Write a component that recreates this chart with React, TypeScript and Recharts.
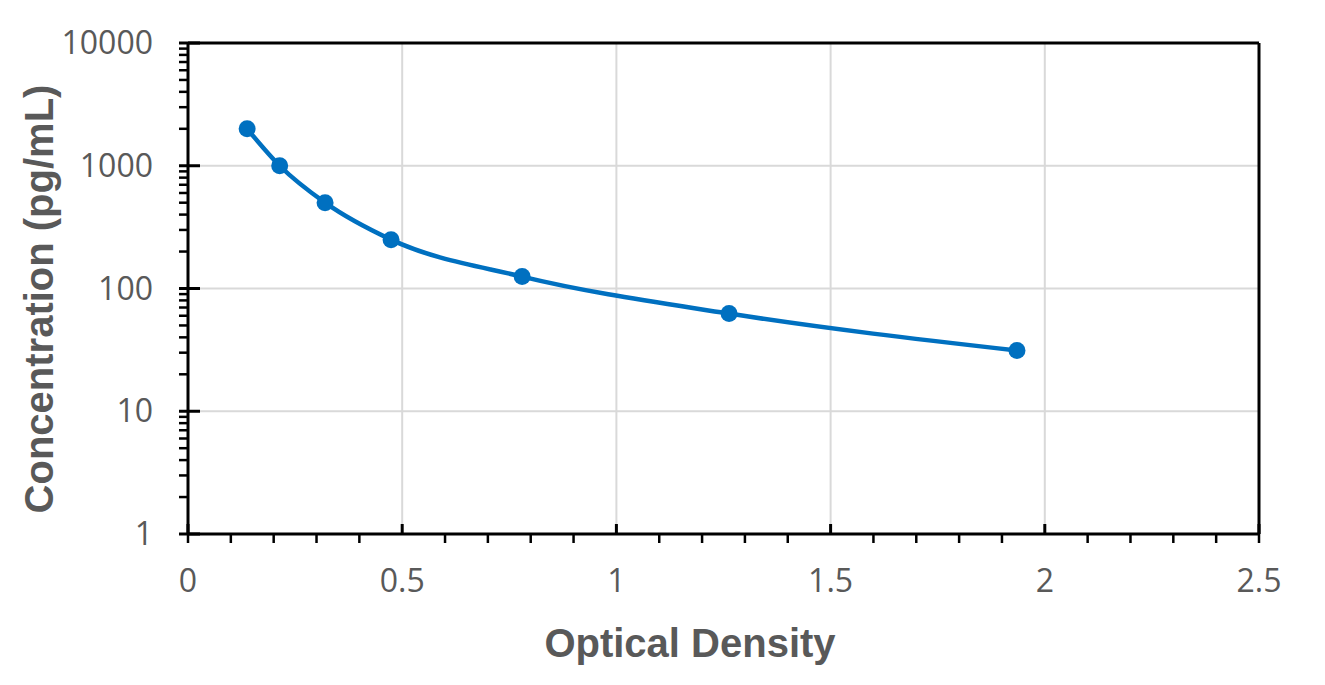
import React from 'react';
import {
  CartesianGrid,
  ComposedChart,
  Label,
  Line,
  ReferenceLine,
  XAxis,
  YAxis,
} from 'recharts';

// standard curve readings
const opticalDensity = [0.138, 0.214, 0.32, 0.474, 0.78, 1.263, 1.935];
const concentration = [2000, 1000, 500, 250, 125, 62.5, 31.25];

const yMajor = [1, 10, 100, 1000, 10000];
const yMinorSteps = [2, 3, 4, 5, 6, 7, 8, 9];
const xMajor = [0, 0.5, 1, 1.5, 2, 2.5];
const xMinor = [0.1, 0.2, 0.3, 0.4, 0.6, 0.7, 0.8, 0.9, 1.1, 1.2, 1.3, 1.4, 1.6, 1.7, 1.8, 1.9, 2.1, 2.2, 2.3, 2.4];

const yTicks = [
  ...yMajor,
  ...yMajor.slice(0, -1).flatMap((d) => yMinorSteps.map((m) => d * m)),
].sort((a, b) => a - b);
const xTicks = [...xMajor, ...xMinor].sort((a, b) => a - b);

const data = opticalDensity.map((od, i) => ({ od, conc: concentration[i] }));

const BLUE = '#0070C0';
const TEXT = '#595959';
const tickFont = "'Open Sans', 'Liberation Sans', sans-serif";
const titleFont = "'Liberation Sans', Arial, sans-serif";

const YTick = (props: any) => {
  const { x, y, payload } = props;
  const v = payload.value;
  const major = yMajor.includes(v);
  return (
    <g>
      <line x1={x - 9} x2={major ? x + 12 : x} y1={y} y2={y} stroke="#000" strokeWidth={major ? 3 : 2.5} />
      {major && (
        <text x={x - 35} y={y} dy="0.35em" textAnchor="end" fill={TEXT} fontSize={32} fontFamily={tickFont}>
          {v}
        </text>
      )}
    </g>
  );
};

const XTick = (props: any) => {
  const { x, y, payload } = props;
  const v = payload.value;
  const major = xMajor.some((m) => Math.abs(m - v) < 1e-9);
  const end = v === 0 || v === 2.5;
  return (
    <g>
      {major && <line x1={x} x2={x} y1={y - 10} y2={y} stroke="#000" strokeWidth={3} />}
      {(!major || end) && <line x1={x} x2={x} y1={y} y2={y + 9} stroke="#000" strokeWidth={2.5} />}
      {major && (
        <text x={x} y={y + 58} textAnchor="middle" fill={TEXT} fontSize={32} fontFamily={tickFont}>
          {v}
        </text>
      )}
    </g>
  );
};

export default function App() {
  return (
    <ComposedChart width={1310} height={670} data={data} margin={{ top: 35, right: 59, left: 0, bottom: 0 }}>
      <CartesianGrid
        stroke="#D9D9D9"
        strokeWidth={2}
        horizontalValues={[10, 100, 1000]}
        verticalValues={[0.5, 1, 1.5, 2]}
      />
      <XAxis
        dataKey="od"
        type="number"
        domain={[0, 2.5]}
        ticks={xTicks}
        interval={0}
        tickSize={0}
        tickMargin={0}
        tickLine={false}
        tick={<XTick />}
        height={144}
        axisLine={{ stroke: '#000', strokeWidth: 3 }}
      >
        <Label
          content={() => (
            <text x={682} y={649} textAnchor="middle" fill={TEXT} fontSize={40} fontWeight="bold" fontFamily={titleFont}>
              Optical Density
            </text>
          )}
        />
      </XAxis>
      <YAxis
        scale="log"
        domain={[1, 10000]}
        allowDataOverflow
        ticks={yTicks}
        interval={0}
        tickSize={0}
        tickMargin={0}
        tickLine={false}
        tick={<YTick />}
        width={180}
        axisLine={{ stroke: '#000', strokeWidth: 3 }}
      >
        <Label
          content={() => (
            <text
              x={45}
              y={291}
              transform="rotate(-90 45 291)"
              textAnchor="middle"
              fill={TEXT}
              fontSize={40}
              fontWeight="bold"
              fontFamily={titleFont}
            >
              Concentration (pg/mL)
            </text>
          )}
        />
      </YAxis>
      <ReferenceLine y={10000} stroke="#000" strokeWidth={3} />
      <ReferenceLine x={2.5} stroke="#000" strokeWidth={3} />
      <Line
        type="monotone"
        dataKey="conc"
        stroke={BLUE}
        strokeWidth={4.5}
        dot={{ r: 8.5, fill: BLUE, stroke: BLUE, strokeWidth: 0 }}
        activeDot={false}
        isAnimationActive={false}
      />
    </ComposedChart>
  );
}
